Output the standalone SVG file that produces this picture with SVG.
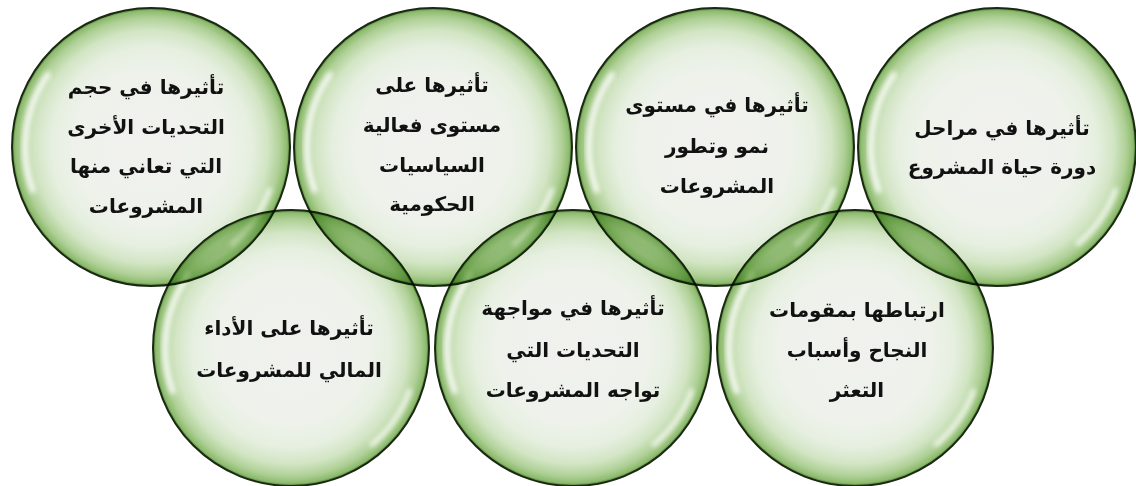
<svg xmlns="http://www.w3.org/2000/svg" xmlns:xlink="http://www.w3.org/1999/xlink" width="1136" height="486" viewBox="0 0 1136 486">
<defs>
<radialGradient id="bub" cx="0.5" cy="0.5" r="0.5">
<stop offset="0" stop-color="#f1f1ee"/>
<stop offset="0.55" stop-color="#eef2eb"/>
<stop offset="0.72" stop-color="#e6efe0"/>
<stop offset="0.84" stop-color="#d2e5c4"/>
<stop offset="0.93" stop-color="#afd096"/>
<stop offset="0.98" stop-color="#8dbb6e"/>
<stop offset="1" stop-color="#4d7a33"/>
</radialGradient>
<filter id="blur" x="-20%" y="-20%" width="140%" height="140%">
<feGaussianBlur stdDeviation="2.5"/>
</filter>
<g id="hl">
<path d="M -118.4 43.1 A 126 126 0 0 1 -103.2 -72.3" fill="none" stroke="#ffffff" stroke-width="6" stroke-linecap="round" stroke-opacity="0.85" filter="url(#blur)"/>
<path d="M 118.4 43.1 A 126 126 0 0 1 81.0 96.5" fill="none" stroke="#ffffff" stroke-width="5" stroke-linecap="round" stroke-opacity="0.8" filter="url(#blur)"/>
</g>
</defs>
<style>
.node { mix-blend-mode: multiply; }
.bubble { fill: url(#bub); stroke: #1a2a12; stroke-width: 2; }
.lbl { font-family: "DejaVu Sans", sans-serif; font-weight: bold; font-size: 20px; fill: #111111; text-anchor: middle; direction: rtl; }
</style>
<rect width="1136" height="486" fill="#ffffff"/>
<g id="connectors"></g>
<g id="node1" class="node">
<circle class="bubble" cx="151" cy="147" r="139"/>
<use xlink:href="#hl" x="151" y="147"/>
<text class="lbl" x="146" y="94">تأثيرها في حجم</text>
<text class="lbl" x="146" y="134">التحديات الأخرى</text>
<text class="lbl" x="146" y="173">التي تعاني منها</text>
<text class="lbl" x="146" y="213">المشروعات</text>
</g>
<g id="node2" class="node">
<circle class="bubble" cx="433" cy="147" r="139"/>
<use xlink:href="#hl" x="433" y="147"/>
<text class="lbl" x="432" y="92">تأثيرها على</text>
<text class="lbl" x="432" y="132">مستوى فعالية</text>
<text class="lbl" x="432" y="172">السياسيات</text>
<text class="lbl" x="432" y="211">الحكومية</text>
</g>
<g id="node3" class="node">
<circle class="bubble" cx="715" cy="147" r="139"/>
<use xlink:href="#hl" x="715" y="147"/>
<text class="lbl" x="717" y="112">تأثيرها في مستوى</text>
<text class="lbl" x="717" y="153">نمو وتطور</text>
<text class="lbl" x="717" y="193">المشروعات</text>
</g>
<g id="node4" class="node">
<circle class="bubble" cx="997" cy="147" r="139"/>
<use xlink:href="#hl" x="997" y="147"/>
<text class="lbl" x="1002" y="135">تأثيرها في مراحل</text>
<text class="lbl" x="1002" y="174">دورة حياة المشروع</text>
</g>
<g id="node5" class="node">
<circle class="bubble" cx="291" cy="348" r="138"/>
<use xlink:href="#hl" x="291" y="348"/>
<text class="lbl" x="289" y="335">تأثيرها على الأداء</text>
<text class="lbl" x="289" y="377">المالي للمشروعات</text>
</g>
<g id="node6" class="node">
<circle class="bubble" cx="573" cy="348" r="138"/>
<use xlink:href="#hl" x="573" y="348"/>
<text class="lbl" x="573" y="315">تأثيرها في مواجهة</text>
<text class="lbl" x="573" y="357">التحديات التي</text>
<text class="lbl" x="573" y="397">تواجه المشروعات</text>
</g>
<g id="node7" class="node">
<circle class="bubble" cx="855" cy="348" r="138"/>
<use xlink:href="#hl" x="855" y="348"/>
<text class="lbl" x="857" y="317">ارتباطها بمقومات</text>
<text class="lbl" x="857" y="357">النجاح وأسباب</text>
<text class="lbl" x="857" y="397">التعثر</text>
</g>
</svg>
